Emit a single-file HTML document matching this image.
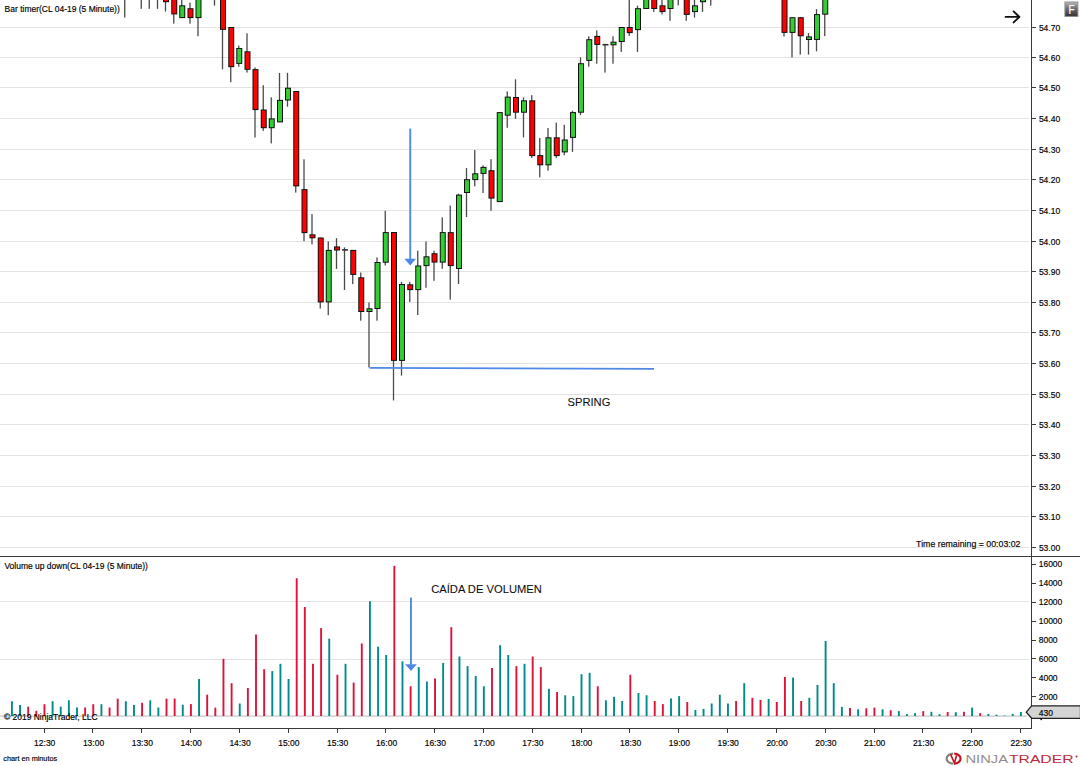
<!DOCTYPE html><html><head><meta charset="utf-8"><title>NinjaTrader chart</title><style>
html,body{margin:0;padding:0;background:#fff;width:1080px;height:766px;overflow:hidden}
svg{position:absolute;left:0;top:0;display:block}
text{font-family:"Liberation Sans",sans-serif;fill:#000;stroke:#000;stroke-width:0.16px}
</style></head><body>
<svg width="1080" height="766" viewBox="0 0 1080 766">
<rect x="0" y="0" width="1080" height="766" fill="#ffffff"/>
<g shape-rendering="crispEdges">
<rect x="0" y="27" width="1029" height="1" fill="#e3e3e3"/>
<rect x="0" y="57" width="1029" height="1" fill="#e3e3e3"/>
<rect x="0" y="87" width="1029" height="1" fill="#e3e3e3"/>
<rect x="0" y="118" width="1029" height="1" fill="#e3e3e3"/>
<rect x="0" y="149" width="1029" height="1" fill="#e3e3e3"/>
<rect x="0" y="179" width="1029" height="1" fill="#e3e3e3"/>
<rect x="0" y="210" width="1029" height="1" fill="#e3e3e3"/>
<rect x="0" y="241" width="1029" height="1" fill="#e3e3e3"/>
<rect x="0" y="271" width="1029" height="1" fill="#e3e3e3"/>
<rect x="0" y="302" width="1029" height="1" fill="#e3e3e3"/>
<rect x="0" y="332" width="1029" height="1" fill="#e3e3e3"/>
<rect x="0" y="363" width="1029" height="1" fill="#e3e3e3"/>
<rect x="0" y="394" width="1029" height="1" fill="#e3e3e3"/>
<rect x="0" y="424" width="1029" height="1" fill="#e3e3e3"/>
<rect x="0" y="455" width="1029" height="1" fill="#e3e3e3"/>
<rect x="0" y="486" width="1029" height="1" fill="#e3e3e3"/>
<rect x="0" y="516" width="1029" height="1" fill="#e3e3e3"/>
<rect x="0" y="547" width="1029" height="1" fill="#e3e3e3"/>
<rect x="0" y="601" width="1029" height="1" fill="#e3e3e3"/>
<rect x="0" y="659" width="1029" height="1" fill="#e3e3e3"/>
</g>
<rect x="0" y="715.5" width="1027" height="1.2" fill="#c4c4c4"/>
<rect x="10.95" y="701.2" width="1.9" height="14.8" fill="#008b8b"/>
<rect x="19.09" y="705.0" width="1.9" height="11.0" fill="#008b8b"/>
<rect x="27.23" y="706.7" width="1.9" height="9.3" fill="#dc143c"/>
<rect x="35.36" y="710.8" width="1.9" height="5.2" fill="#dc143c"/>
<rect x="43.50" y="704.2" width="1.9" height="11.8" fill="#dc143c"/>
<rect x="51.64" y="701.2" width="1.9" height="14.8" fill="#008b8b"/>
<rect x="59.77" y="706.7" width="1.9" height="9.3" fill="#008b8b"/>
<rect x="67.91" y="700.3" width="1.9" height="15.7" fill="#008b8b"/>
<rect x="76.05" y="707.5" width="1.9" height="8.5" fill="#008b8b"/>
<rect x="84.19" y="707.5" width="1.9" height="8.5" fill="#dc143c"/>
<rect x="92.32" y="704.2" width="1.9" height="11.8" fill="#dc143c"/>
<rect x="100.46" y="704.2" width="1.9" height="11.8" fill="#008b8b"/>
<rect x="108.60" y="707.5" width="1.9" height="8.5" fill="#dc143c"/>
<rect x="116.73" y="698.7" width="1.9" height="17.3" fill="#dc143c"/>
<rect x="124.87" y="701.2" width="1.9" height="14.8" fill="#008b8b"/>
<rect x="133.01" y="705.0" width="1.9" height="11.0" fill="#008b8b"/>
<rect x="141.14" y="702.8" width="1.9" height="13.2" fill="#dc143c"/>
<rect x="149.28" y="700.3" width="1.9" height="15.7" fill="#008b8b"/>
<rect x="157.42" y="707.5" width="1.9" height="8.5" fill="#008b8b"/>
<rect x="165.56" y="698.7" width="1.9" height="17.3" fill="#dc143c"/>
<rect x="173.69" y="698.5" width="1.9" height="17.5" fill="#dc143c"/>
<rect x="181.83" y="704.7" width="1.9" height="11.3" fill="#008b8b"/>
<rect x="189.97" y="704.1" width="1.9" height="11.9" fill="#dc143c"/>
<rect x="198.10" y="679.0" width="1.9" height="37.0" fill="#008b8b"/>
<rect x="206.24" y="694.7" width="1.9" height="21.3" fill="#dc143c"/>
<rect x="214.38" y="707.6" width="1.9" height="8.4" fill="#dc143c"/>
<rect x="222.51" y="658.8" width="1.9" height="57.2" fill="#dc143c"/>
<rect x="230.65" y="683.2" width="1.9" height="32.8" fill="#dc143c"/>
<rect x="238.79" y="703.5" width="1.9" height="12.5" fill="#008b8b"/>
<rect x="246.93" y="688.0" width="1.9" height="28.0" fill="#dc143c"/>
<rect x="255.06" y="634.5" width="1.9" height="81.5" fill="#dc143c"/>
<rect x="263.20" y="669.2" width="1.9" height="46.8" fill="#dc143c"/>
<rect x="271.34" y="671.1" width="1.9" height="44.9" fill="#008b8b"/>
<rect x="279.47" y="663.8" width="1.9" height="52.2" fill="#008b8b"/>
<rect x="287.61" y="679.0" width="1.9" height="37.0" fill="#008b8b"/>
<rect x="295.75" y="578.2" width="1.9" height="137.8" fill="#dc143c"/>
<rect x="303.88" y="607.0" width="1.9" height="109.0" fill="#dc143c"/>
<rect x="312.02" y="663.8" width="1.9" height="52.2" fill="#dc143c"/>
<rect x="320.16" y="628.1" width="1.9" height="87.9" fill="#dc143c"/>
<rect x="328.30" y="638.7" width="1.9" height="77.3" fill="#008b8b"/>
<rect x="336.43" y="674.8" width="1.9" height="41.2" fill="#dc143c"/>
<rect x="344.57" y="663.8" width="1.9" height="52.2" fill="#008b8b"/>
<rect x="352.71" y="682.6" width="1.9" height="33.4" fill="#dc143c"/>
<rect x="360.84" y="643.5" width="1.9" height="72.5" fill="#dc143c"/>
<rect x="368.98" y="601.3" width="1.9" height="114.7" fill="#008b8b"/>
<rect x="377.12" y="646.7" width="1.9" height="69.3" fill="#008b8b"/>
<rect x="385.25" y="655.0" width="1.9" height="61.0" fill="#008b8b"/>
<rect x="393.39" y="565.8" width="1.9" height="150.2" fill="#dc143c"/>
<rect x="401.53" y="661.3" width="1.9" height="54.7" fill="#008b8b"/>
<rect x="409.67" y="686.3" width="1.9" height="29.7" fill="#dc143c"/>
<rect x="417.80" y="667.1" width="1.9" height="48.9" fill="#008b8b"/>
<rect x="425.94" y="681.5" width="1.9" height="34.5" fill="#008b8b"/>
<rect x="434.08" y="678.4" width="1.9" height="37.6" fill="#dc143c"/>
<rect x="442.21" y="662.9" width="1.9" height="53.1" fill="#008b8b"/>
<rect x="450.35" y="627.2" width="1.9" height="88.8" fill="#dc143c"/>
<rect x="458.49" y="656.5" width="1.9" height="59.5" fill="#008b8b"/>
<rect x="466.62" y="666.1" width="1.9" height="49.9" fill="#008b8b"/>
<rect x="474.76" y="675.9" width="1.9" height="40.1" fill="#008b8b"/>
<rect x="482.90" y="686.3" width="1.9" height="29.7" fill="#008b8b"/>
<rect x="491.04" y="668.0" width="1.9" height="48.0" fill="#dc143c"/>
<rect x="499.17" y="645.2" width="1.9" height="70.8" fill="#008b8b"/>
<rect x="507.31" y="655.0" width="1.9" height="61.0" fill="#008b8b"/>
<rect x="515.45" y="666.1" width="1.9" height="49.9" fill="#dc143c"/>
<rect x="523.58" y="663.8" width="1.9" height="52.2" fill="#008b8b"/>
<rect x="531.72" y="656.5" width="1.9" height="59.5" fill="#dc143c"/>
<rect x="539.86" y="667.1" width="1.9" height="48.9" fill="#dc143c"/>
<rect x="547.99" y="688.8" width="1.9" height="27.2" fill="#008b8b"/>
<rect x="556.13" y="692.0" width="1.9" height="24.0" fill="#dc143c"/>
<rect x="564.27" y="695.3" width="1.9" height="20.7" fill="#008b8b"/>
<rect x="572.40" y="696.1" width="1.9" height="19.9" fill="#008b8b"/>
<rect x="580.54" y="674.2" width="1.9" height="41.8" fill="#008b8b"/>
<rect x="588.68" y="672.8" width="1.9" height="43.2" fill="#008b8b"/>
<rect x="596.82" y="686.3" width="1.9" height="29.7" fill="#dc143c"/>
<rect x="604.95" y="700.3" width="1.9" height="15.7" fill="#008b8b"/>
<rect x="613.09" y="696.8" width="1.9" height="19.2" fill="#008b8b"/>
<rect x="621.23" y="701.0" width="1.9" height="15.0" fill="#008b8b"/>
<rect x="629.36" y="674.8" width="1.9" height="41.2" fill="#dc143c"/>
<rect x="637.50" y="693.0" width="1.9" height="23.0" fill="#008b8b"/>
<rect x="645.64" y="695.3" width="1.9" height="20.7" fill="#008b8b"/>
<rect x="653.78" y="701.0" width="1.9" height="15.0" fill="#dc143c"/>
<rect x="661.91" y="704.1" width="1.9" height="11.9" fill="#dc143c"/>
<rect x="670.05" y="698.4" width="1.9" height="17.6" fill="#008b8b"/>
<rect x="678.19" y="696.1" width="1.9" height="19.9" fill="#008b8b"/>
<rect x="686.32" y="702.0" width="1.9" height="14.0" fill="#dc143c"/>
<rect x="694.46" y="709.9" width="1.9" height="6.1" fill="#008b8b"/>
<rect x="702.60" y="708.9" width="1.9" height="7.1" fill="#008b8b"/>
<rect x="710.73" y="703.5" width="1.9" height="12.5" fill="#008b8b"/>
<rect x="718.87" y="694.7" width="1.9" height="21.3" fill="#008b8b"/>
<rect x="727.01" y="703.5" width="1.9" height="12.5" fill="#008b8b"/>
<rect x="735.14" y="701.0" width="1.9" height="15.0" fill="#dc143c"/>
<rect x="743.28" y="683.2" width="1.9" height="32.8" fill="#008b8b"/>
<rect x="751.42" y="697.8" width="1.9" height="18.2" fill="#dc143c"/>
<rect x="759.56" y="699.9" width="1.9" height="16.1" fill="#dc143c"/>
<rect x="767.69" y="698.9" width="1.9" height="17.1" fill="#008b8b"/>
<rect x="775.83" y="702.0" width="1.9" height="14.0" fill="#dc143c"/>
<rect x="783.97" y="676.9" width="1.9" height="39.1" fill="#dc143c"/>
<rect x="792.10" y="677.6" width="1.9" height="38.4" fill="#008b8b"/>
<rect x="800.24" y="701.0" width="1.9" height="15.0" fill="#dc143c"/>
<rect x="808.38" y="697.8" width="1.9" height="18.2" fill="#008b8b"/>
<rect x="816.52" y="684.9" width="1.9" height="31.1" fill="#008b8b"/>
<rect x="824.65" y="641.0" width="1.9" height="75.0" fill="#008b8b"/>
<rect x="832.79" y="683.2" width="1.9" height="32.8" fill="#008b8b"/>
<rect x="840.93" y="706.9" width="1.9" height="9.1" fill="#008b8b"/>
<rect x="849.06" y="707.9" width="1.9" height="8.1" fill="#dc143c"/>
<rect x="857.20" y="709.3" width="1.9" height="6.7" fill="#008b8b"/>
<rect x="865.34" y="708.3" width="1.9" height="7.7" fill="#dc143c"/>
<rect x="873.47" y="707.6" width="1.9" height="8.4" fill="#dc143c"/>
<rect x="881.61" y="709.3" width="1.9" height="6.7" fill="#008b8b"/>
<rect x="889.75" y="710.2" width="1.9" height="5.8" fill="#dc143c"/>
<rect x="897.88" y="711.1" width="1.9" height="4.9" fill="#008b8b"/>
<rect x="906.02" y="714.1" width="1.9" height="1.9" fill="#008b8b"/>
<rect x="914.16" y="713.1" width="1.9" height="2.9" fill="#008b8b"/>
<rect x="922.30" y="711.1" width="1.9" height="4.9" fill="#dc143c"/>
<rect x="930.43" y="711.8" width="1.9" height="4.2" fill="#008b8b"/>
<rect x="938.57" y="714.2" width="1.9" height="1.8" fill="#008b8b"/>
<rect x="946.71" y="712.0" width="1.9" height="4.0" fill="#dc143c"/>
<rect x="954.84" y="712.2" width="1.9" height="3.8" fill="#008b8b"/>
<rect x="962.98" y="711.8" width="1.9" height="4.2" fill="#dc143c"/>
<rect x="971.12" y="707.6" width="1.9" height="8.4" fill="#008b8b"/>
<rect x="979.26" y="713.1" width="1.9" height="2.9" fill="#dc143c"/>
<rect x="987.39" y="713.9" width="1.9" height="2.1" fill="#008b8b"/>
<rect x="995.53" y="714.8" width="1.9" height="1.2" fill="#008b8b"/>
<rect x="1003.67" y="715.5" width="1.9" height="0.5" fill="#008b8b"/>
<rect x="1011.80" y="713.9" width="1.9" height="2.1" fill="#008b8b"/>
<rect x="1019.94" y="712.0" width="1.9" height="4.0" fill="#008b8b"/>
<rect x="124.10" y="-20.0" width="1.3" height="37.6" fill="#4a4a4a"/>
<rect x="122.25" y="-20.1" width="6" height="18.6" fill="#111111"/>
<rect x="123.25" y="-19.1" width="4" height="16.6" fill="#32cd32"/>
<rect x="140.60" y="-20.0" width="1.3" height="28.8" fill="#4a4a4a"/>
<rect x="138.75" y="-20.1" width="6" height="18.6" fill="#111111"/>
<rect x="139.75" y="-19.1" width="4" height="16.6" fill="#ff0000"/>
<rect x="148.60" y="-20.0" width="1.3" height="28.8" fill="#4a4a4a"/>
<rect x="146.75" y="-20.1" width="6" height="18.6" fill="#111111"/>
<rect x="147.75" y="-19.1" width="4" height="16.6" fill="#32cd32"/>
<rect x="156.85" y="-20.0" width="1.3" height="28.8" fill="#4a4a4a"/>
<rect x="155.0" y="-20.1" width="6" height="18.6" fill="#111111"/>
<rect x="156.0" y="-19.1" width="4" height="16.6" fill="#32cd32"/>
<rect x="164.85" y="-12.0" width="1.3" height="23.6" fill="#4a4a4a"/>
<rect x="163.0" y="-12.1" width="6" height="14.3" fill="#111111"/>
<rect x="164.0" y="-11.1" width="4" height="12.3" fill="#ff0000"/>
<rect x="173.10" y="-12.0" width="1.3" height="35.6" fill="#4a4a4a"/>
<rect x="171.25" y="-12.1" width="6" height="26.5" fill="#111111"/>
<rect x="172.25" y="-11.1" width="4" height="24.5" fill="#ff0000"/>
<rect x="181.10" y="-12.0" width="1.3" height="29.6" fill="#4a4a4a"/>
<rect x="179.25" y="5.3" width="6" height="12.8" fill="#111111"/>
<rect x="180.25" y="6.3" width="4" height="10.8" fill="#32cd32"/>
<rect x="189.35" y="2.6" width="1.3" height="21.1" fill="#4a4a4a"/>
<rect x="187.5" y="8.2" width="6" height="9.9" fill="#111111"/>
<rect x="188.5" y="9.2" width="4" height="7.9" fill="#ff0000"/>
<rect x="197.35" y="-12.0" width="1.3" height="48.2" fill="#4a4a4a"/>
<rect x="195.5" y="-12.1" width="6" height="30.2" fill="#111111"/>
<rect x="196.5" y="-11.1" width="4" height="28.2" fill="#32cd32"/>
<rect x="213.85" y="-20.0" width="1.3" height="25.6" fill="#4a4a4a"/>
<rect x="212.0" y="-20.1" width="6" height="18.6" fill="#111111"/>
<rect x="213.0" y="-19.1" width="4" height="16.6" fill="#ff0000"/>
<rect x="221.85" y="-12.0" width="1.3" height="81.3" fill="#4a4a4a"/>
<rect x="220.0" y="-12.1" width="6" height="42.0" fill="#111111"/>
<rect x="221.0" y="-11.1" width="4" height="40.0" fill="#ff0000"/>
<rect x="230.10" y="27.1" width="1.3" height="55.1" fill="#4a4a4a"/>
<rect x="228.25" y="27.0" width="6" height="40.2" fill="#111111"/>
<rect x="229.25" y="28.0" width="4" height="38.2" fill="#ff0000"/>
<rect x="238.10" y="45.6" width="1.3" height="21.1" fill="#4a4a4a"/>
<rect x="236.25" y="48.0" width="6" height="15.9" fill="#111111"/>
<rect x="237.25" y="49.0" width="4" height="13.9" fill="#32cd32"/>
<rect x="246.35" y="33.3" width="1.3" height="39.3" fill="#4a4a4a"/>
<rect x="244.5" y="51.3" width="6" height="18.5" fill="#111111"/>
<rect x="245.5" y="52.3" width="4" height="16.5" fill="#ff0000"/>
<rect x="254.35" y="67.4" width="1.3" height="70.1" fill="#4a4a4a"/>
<rect x="252.5" y="69.1" width="6" height="41.0" fill="#111111"/>
<rect x="253.5" y="70.1" width="4" height="39.0" fill="#ff0000"/>
<rect x="262.60" y="85.2" width="1.3" height="45.6" fill="#4a4a4a"/>
<rect x="260.75" y="109.5" width="6" height="18.7" fill="#111111"/>
<rect x="261.75" y="110.5" width="4" height="16.7" fill="#ff0000"/>
<rect x="270.60" y="97.3" width="1.3" height="46.1" fill="#4a4a4a"/>
<rect x="268.75" y="118.4" width="6" height="9.8" fill="#111111"/>
<rect x="269.75" y="119.4" width="4" height="7.8" fill="#32cd32"/>
<rect x="278.85" y="72.9" width="1.3" height="49.0" fill="#4a4a4a"/>
<rect x="277.0" y="99.9" width="6" height="22.5" fill="#111111"/>
<rect x="278.0" y="100.9" width="4" height="20.5" fill="#32cd32"/>
<rect x="286.85" y="72.9" width="1.3" height="33.8" fill="#4a4a4a"/>
<rect x="285.0" y="87.7" width="6" height="12.8" fill="#111111"/>
<rect x="286.0" y="88.7" width="4" height="10.8" fill="#32cd32"/>
<rect x="295.10" y="91.1" width="1.3" height="101.5" fill="#4a4a4a"/>
<rect x="293.25" y="91.0" width="6" height="95.4" fill="#111111"/>
<rect x="294.25" y="92.0" width="4" height="93.4" fill="#ff0000"/>
<rect x="303.35" y="159.3" width="1.3" height="81.9" fill="#4a4a4a"/>
<rect x="301.5" y="189.1" width="6" height="44.0" fill="#111111"/>
<rect x="302.5" y="190.1" width="4" height="42.0" fill="#ff0000"/>
<rect x="311.35" y="214.1" width="1.3" height="30.3" fill="#4a4a4a"/>
<rect x="309.5" y="234.3" width="6" height="4.0" fill="#111111"/>
<rect x="310.5" y="235.3" width="4" height="2.0" fill="#ff0000"/>
<rect x="319.60" y="237.6" width="1.3" height="70.9" fill="#4a4a4a"/>
<rect x="317.75" y="237.5" width="6" height="64.9" fill="#111111"/>
<rect x="318.75" y="238.5" width="4" height="62.9" fill="#ff0000"/>
<rect x="327.60" y="241.4" width="1.3" height="73.8" fill="#4a4a4a"/>
<rect x="325.75" y="249.9" width="6" height="52.5" fill="#111111"/>
<rect x="326.75" y="250.9" width="4" height="50.5" fill="#32cd32"/>
<rect x="335.85" y="238.2" width="1.3" height="30.7" fill="#4a4a4a"/>
<rect x="334.0" y="246.4" width="6" height="4.1" fill="#111111"/>
<rect x="335.0" y="247.4" width="4" height="2.1" fill="#ff0000"/>
<rect x="343.85" y="247.4" width="1.3" height="42.6" fill="#4a4a4a"/>
<rect x="342.0" y="249.1" width="6" height="1.6" fill="#303030"/>
<rect x="352.10" y="250.0" width="1.3" height="34.1" fill="#4a4a4a"/>
<rect x="350.25" y="249.9" width="6" height="25.0" fill="#111111"/>
<rect x="351.25" y="250.9" width="4" height="23.0" fill="#ff0000"/>
<rect x="360.10" y="272.5" width="1.3" height="48.2" fill="#4a4a4a"/>
<rect x="358.25" y="277.3" width="6" height="34.7" fill="#111111"/>
<rect x="359.25" y="278.3" width="4" height="32.7" fill="#ff0000"/>
<rect x="368.35" y="302.5" width="1.3" height="65.0" fill="#4a4a4a"/>
<rect x="366.5" y="308.3" width="6" height="3.7" fill="#111111"/>
<rect x="367.5" y="309.3" width="4" height="1.7" fill="#32cd32"/>
<rect x="376.35" y="257.4" width="1.3" height="63.3" fill="#4a4a4a"/>
<rect x="374.5" y="262.0" width="6" height="47.0" fill="#111111"/>
<rect x="375.5" y="263.0" width="4" height="45.0" fill="#32cd32"/>
<rect x="384.60" y="210.8" width="1.3" height="54.7" fill="#4a4a4a"/>
<rect x="382.75" y="232.1" width="6" height="30.6" fill="#111111"/>
<rect x="383.75" y="233.1" width="4" height="28.6" fill="#32cd32"/>
<rect x="392.85" y="232.1" width="1.3" height="168.3" fill="#4a4a4a"/>
<rect x="391.0" y="232.0" width="6" height="128.9" fill="#111111"/>
<rect x="392.0" y="233.0" width="4" height="126.9" fill="#ff0000"/>
<rect x="400.85" y="281.9" width="1.3" height="93.7" fill="#4a4a4a"/>
<rect x="399.0" y="284.0" width="6" height="76.9" fill="#111111"/>
<rect x="400.0" y="285.0" width="4" height="74.9" fill="#32cd32"/>
<rect x="409.10" y="281.9" width="1.3" height="20.1" fill="#4a4a4a"/>
<rect x="407.25" y="284.3" width="6" height="5.8" fill="#111111"/>
<rect x="408.25" y="285.3" width="4" height="3.8" fill="#ff0000"/>
<rect x="417.10" y="250.6" width="1.3" height="64.4" fill="#4a4a4a"/>
<rect x="415.25" y="265.5" width="6" height="24.6" fill="#111111"/>
<rect x="416.25" y="266.5" width="4" height="22.6" fill="#32cd32"/>
<rect x="425.35" y="241.6" width="1.3" height="46.2" fill="#4a4a4a"/>
<rect x="423.5" y="256.3" width="6" height="9.8" fill="#111111"/>
<rect x="424.5" y="257.3" width="4" height="7.8" fill="#32cd32"/>
<rect x="433.35" y="250.7" width="1.3" height="30.1" fill="#4a4a4a"/>
<rect x="431.5" y="253.2" width="6" height="9.4" fill="#111111"/>
<rect x="432.5" y="254.2" width="4" height="7.4" fill="#ff0000"/>
<rect x="441.60" y="217.4" width="1.3" height="51.4" fill="#4a4a4a"/>
<rect x="439.75" y="232.1" width="6" height="30.5" fill="#111111"/>
<rect x="440.75" y="233.1" width="4" height="28.5" fill="#32cd32"/>
<rect x="449.60" y="205.6" width="1.3" height="94.0" fill="#4a4a4a"/>
<rect x="447.75" y="232.1" width="6" height="34.0" fill="#111111"/>
<rect x="448.75" y="233.1" width="4" height="32.0" fill="#ff0000"/>
<rect x="457.85" y="193.7" width="1.3" height="90.3" fill="#4a4a4a"/>
<rect x="456.0" y="194.6" width="6" height="74.4" fill="#111111"/>
<rect x="457.0" y="195.6" width="4" height="72.4" fill="#32cd32"/>
<rect x="465.85" y="168.1" width="1.3" height="48.9" fill="#4a4a4a"/>
<rect x="464.0" y="179.2" width="6" height="13.8" fill="#111111"/>
<rect x="465.0" y="180.2" width="4" height="11.8" fill="#32cd32"/>
<rect x="474.10" y="150.0" width="1.3" height="36.3" fill="#4a4a4a"/>
<rect x="472.25" y="173.3" width="6" height="6.8" fill="#111111"/>
<rect x="473.25" y="174.3" width="4" height="4.8" fill="#32cd32"/>
<rect x="482.35" y="165.3" width="1.3" height="27.7" fill="#4a4a4a"/>
<rect x="480.5" y="166.9" width="6" height="7.0" fill="#111111"/>
<rect x="481.5" y="167.9" width="4" height="5.0" fill="#32cd32"/>
<rect x="490.35" y="159.2" width="1.3" height="51.5" fill="#4a4a4a"/>
<rect x="488.5" y="170.2" width="6" height="28.4" fill="#111111"/>
<rect x="489.5" y="171.2" width="4" height="26.4" fill="#ff0000"/>
<rect x="498.60" y="112.2" width="1.3" height="89.4" fill="#4a4a4a"/>
<rect x="496.75" y="112.1" width="6" height="90.0" fill="#111111"/>
<rect x="497.75" y="113.1" width="4" height="88.0" fill="#32cd32"/>
<rect x="506.60" y="91.5" width="1.3" height="36.3" fill="#4a4a4a"/>
<rect x="504.75" y="96.6" width="6" height="19.1" fill="#111111"/>
<rect x="505.75" y="97.6" width="4" height="17.1" fill="#32cd32"/>
<rect x="514.85" y="79.3" width="1.3" height="39.6" fill="#4a4a4a"/>
<rect x="513.0" y="97.0" width="6" height="15.7" fill="#111111"/>
<rect x="514.0" y="98.0" width="4" height="13.7" fill="#ff0000"/>
<rect x="522.85" y="97.4" width="1.3" height="40.0" fill="#4a4a4a"/>
<rect x="521.0" y="100.3" width="6" height="12.4" fill="#111111"/>
<rect x="522.0" y="101.3" width="4" height="10.4" fill="#32cd32"/>
<rect x="531.10" y="95.2" width="1.3" height="62.8" fill="#4a4a4a"/>
<rect x="529.25" y="100.3" width="6" height="55.8" fill="#111111"/>
<rect x="530.25" y="101.3" width="4" height="53.8" fill="#ff0000"/>
<rect x="539.10" y="138.1" width="1.3" height="39.3" fill="#4a4a4a"/>
<rect x="537.25" y="155.1" width="6" height="10.2" fill="#111111"/>
<rect x="538.25" y="156.1" width="4" height="8.2" fill="#ff0000"/>
<rect x="547.35" y="128.0" width="1.3" height="42.7" fill="#4a4a4a"/>
<rect x="545.5" y="137.3" width="6" height="28.0" fill="#111111"/>
<rect x="546.5" y="138.3" width="4" height="26.0" fill="#32cd32"/>
<rect x="555.60" y="122.6" width="1.3" height="35.4" fill="#4a4a4a"/>
<rect x="553.75" y="137.3" width="6" height="18.8" fill="#111111"/>
<rect x="554.75" y="138.3" width="4" height="16.8" fill="#ff0000"/>
<rect x="563.60" y="124.8" width="1.3" height="30.4" fill="#4a4a4a"/>
<rect x="561.75" y="139.5" width="6" height="12.9" fill="#111111"/>
<rect x="562.75" y="140.5" width="4" height="10.9" fill="#32cd32"/>
<rect x="571.85" y="110.7" width="1.3" height="41.2" fill="#4a4a4a"/>
<rect x="570.0" y="112.1" width="6" height="25.8" fill="#111111"/>
<rect x="571.0" y="113.1" width="4" height="23.8" fill="#32cd32"/>
<rect x="579.85" y="57.4" width="1.3" height="57.8" fill="#4a4a4a"/>
<rect x="578.0" y="63.2" width="6" height="49.5" fill="#111111"/>
<rect x="579.0" y="64.2" width="4" height="47.5" fill="#32cd32"/>
<rect x="588.10" y="36.3" width="1.3" height="30.4" fill="#4a4a4a"/>
<rect x="586.25" y="39.2" width="6" height="21.7" fill="#111111"/>
<rect x="587.25" y="40.2" width="4" height="19.7" fill="#32cd32"/>
<rect x="596.10" y="30.4" width="1.3" height="33.3" fill="#4a4a4a"/>
<rect x="594.25" y="35.9" width="6" height="9.0" fill="#111111"/>
<rect x="595.25" y="36.9" width="4" height="7.0" fill="#ff0000"/>
<rect x="604.35" y="43.9" width="1.3" height="28.7" fill="#4a4a4a"/>
<rect x="602.5" y="43.9" width="6" height="1.6" fill="#303030"/>
<rect x="612.35" y="36.3" width="1.3" height="27.4" fill="#4a4a4a"/>
<rect x="610.5" y="41.7" width="6" height="3.6" fill="#111111"/>
<rect x="611.5" y="42.7" width="4" height="1.6" fill="#32cd32"/>
<rect x="620.60" y="27.1" width="1.3" height="24.8" fill="#4a4a4a"/>
<rect x="618.75" y="27.0" width="6" height="15.0" fill="#111111"/>
<rect x="619.75" y="28.0" width="4" height="13.0" fill="#32cd32"/>
<rect x="628.60" y="-12.0" width="1.3" height="47.9" fill="#4a4a4a"/>
<rect x="626.75" y="27.0" width="6" height="6.1" fill="#111111"/>
<rect x="627.75" y="28.0" width="4" height="4.1" fill="#ff0000"/>
<rect x="636.85" y="5.7" width="1.3" height="46.2" fill="#4a4a4a"/>
<rect x="635.0" y="8.2" width="6" height="21.9" fill="#111111"/>
<rect x="636.0" y="9.2" width="4" height="19.9" fill="#32cd32"/>
<rect x="645.10" y="-12.0" width="1.3" height="20.5" fill="#4a4a4a"/>
<rect x="643.25" y="-12.1" width="6" height="21.1" fill="#111111"/>
<rect x="644.25" y="-11.1" width="4" height="19.1" fill="#32cd32"/>
<rect x="653.10" y="-12.0" width="1.3" height="23.9" fill="#4a4a4a"/>
<rect x="651.25" y="-12.1" width="6" height="21.1" fill="#111111"/>
<rect x="652.25" y="-11.1" width="4" height="19.1" fill="#ff0000"/>
<rect x="661.35" y="-12.0" width="1.3" height="26.4" fill="#4a4a4a"/>
<rect x="659.5" y="5.3" width="6" height="6.8" fill="#111111"/>
<rect x="660.5" y="6.3" width="4" height="4.8" fill="#ff0000"/>
<rect x="669.35" y="-12.0" width="1.3" height="32.8" fill="#4a4a4a"/>
<rect x="667.5" y="-12.1" width="6" height="21.1" fill="#111111"/>
<rect x="668.5" y="-11.1" width="4" height="19.1" fill="#32cd32"/>
<rect x="677.60" y="-20.0" width="1.3" height="25.4" fill="#4a4a4a"/>
<rect x="675.75" y="-20.1" width="6" height="18.6" fill="#111111"/>
<rect x="676.75" y="-19.1" width="4" height="16.6" fill="#32cd32"/>
<rect x="685.60" y="-12.0" width="1.3" height="32.8" fill="#4a4a4a"/>
<rect x="683.75" y="-12.1" width="6" height="27.0" fill="#111111"/>
<rect x="684.75" y="-11.1" width="4" height="25.0" fill="#ff0000"/>
<rect x="693.85" y="-12.0" width="1.3" height="29.6" fill="#4a4a4a"/>
<rect x="692.0" y="5.3" width="6" height="6.8" fill="#111111"/>
<rect x="693.0" y="6.3" width="4" height="4.8" fill="#32cd32"/>
<rect x="701.85" y="-12.0" width="1.3" height="23.9" fill="#4a4a4a"/>
<rect x="700.0" y="-12.1" width="6" height="14.3" fill="#111111"/>
<rect x="701.0" y="-11.1" width="4" height="12.3" fill="#32cd32"/>
<rect x="710.10" y="-20.0" width="1.3" height="25.7" fill="#4a4a4a"/>
<rect x="708.25" y="-20.1" width="6" height="18.6" fill="#111111"/>
<rect x="709.25" y="-19.1" width="4" height="16.6" fill="#32cd32"/>
<rect x="783.35" y="-12.0" width="1.3" height="48.6" fill="#4a4a4a"/>
<rect x="781.5" y="-12.1" width="6" height="45.0" fill="#111111"/>
<rect x="782.5" y="-11.1" width="4" height="43.0" fill="#ff0000"/>
<rect x="791.35" y="17.3" width="1.3" height="40.1" fill="#4a4a4a"/>
<rect x="789.5" y="17.2" width="6" height="15.7" fill="#111111"/>
<rect x="790.5" y="18.2" width="4" height="13.7" fill="#32cd32"/>
<rect x="799.60" y="17.3" width="1.3" height="37.3" fill="#4a4a4a"/>
<rect x="797.75" y="17.2" width="6" height="19.1" fill="#111111"/>
<rect x="798.75" y="18.2" width="4" height="17.1" fill="#ff0000"/>
<rect x="807.85" y="33.1" width="1.3" height="21.5" fill="#4a4a4a"/>
<rect x="806.0" y="36.4" width="6" height="3.6" fill="#111111"/>
<rect x="807.0" y="37.4" width="4" height="1.6" fill="#32cd32"/>
<rect x="815.85" y="9.1" width="1.3" height="42.3" fill="#4a4a4a"/>
<rect x="814.0" y="14.1" width="6" height="25.8" fill="#111111"/>
<rect x="815.0" y="15.1" width="4" height="23.8" fill="#32cd32"/>
<rect x="824.10" y="-12.0" width="1.3" height="48.1" fill="#4a4a4a"/>
<rect x="822.25" y="-12.1" width="6" height="26.8" fill="#111111"/>
<rect x="823.25" y="-11.1" width="4" height="24.8" fill="#32cd32"/>
<line x1="369.6" y1="367.8" x2="654" y2="368.8" stroke="#4f88e6" stroke-width="1.8"/>
<rect x="409.3" y="128.6" width="1.9" height="131" fill="#4f88e6"/>
<polygon points="404.4,258.8 416.0,258.8 410.2,265.6" fill="#4f88e6"/>
<rect x="410.0" y="597.6" width="1.9" height="67" fill="#4f88e6"/>
<polygon points="405.2,664.2 416.8,664.2 411.0,671" fill="#4f88e6"/>
<g shape-rendering="crispEdges">
<rect x="1031" y="0" width="1.2" height="728.8" fill="#3a3a3a"/>
<rect x="0" y="555.6" width="1080" height="1.3" fill="#3a3a3a"/>
<rect x="0" y="727.6" width="1032" height="1.3" fill="#3a3a3a"/>
<rect x="1031" y="27" width="5" height="1" fill="#3a3a3a"/>
<rect x="1031" y="57" width="5" height="1" fill="#3a3a3a"/>
<rect x="1031" y="87" width="5" height="1" fill="#3a3a3a"/>
<rect x="1031" y="118" width="5" height="1" fill="#3a3a3a"/>
<rect x="1031" y="149" width="5" height="1" fill="#3a3a3a"/>
<rect x="1031" y="179" width="5" height="1" fill="#3a3a3a"/>
<rect x="1031" y="210" width="5" height="1" fill="#3a3a3a"/>
<rect x="1031" y="241" width="5" height="1" fill="#3a3a3a"/>
<rect x="1031" y="271" width="5" height="1" fill="#3a3a3a"/>
<rect x="1031" y="302" width="5" height="1" fill="#3a3a3a"/>
<rect x="1031" y="332" width="5" height="1" fill="#3a3a3a"/>
<rect x="1031" y="363" width="5" height="1" fill="#3a3a3a"/>
<rect x="1031" y="394" width="5" height="1" fill="#3a3a3a"/>
<rect x="1031" y="424" width="5" height="1" fill="#3a3a3a"/>
<rect x="1031" y="455" width="5" height="1" fill="#3a3a3a"/>
<rect x="1031" y="486" width="5" height="1" fill="#3a3a3a"/>
<rect x="1031" y="516" width="5" height="1" fill="#3a3a3a"/>
<rect x="1031" y="547" width="5" height="1" fill="#3a3a3a"/>
<rect x="1031" y="696.3" width="5" height="1" fill="#3a3a3a"/>
<rect x="1031" y="677.4" width="5" height="1" fill="#3a3a3a"/>
<rect x="1031" y="658.4" width="5" height="1" fill="#3a3a3a"/>
<rect x="1031" y="639.5" width="5" height="1" fill="#3a3a3a"/>
<rect x="1031" y="620.5" width="5" height="1" fill="#3a3a3a"/>
<rect x="1031" y="601.5" width="5" height="1" fill="#3a3a3a"/>
<rect x="1031" y="582.6" width="5" height="1" fill="#3a3a3a"/>
<rect x="1031" y="563.6" width="5" height="1" fill="#3a3a3a"/>
<rect x="44" y="728" width="1" height="5" fill="#3a3a3a"/>
<rect x="92" y="728" width="1" height="5" fill="#3a3a3a"/>
<rect x="141" y="728" width="1" height="5" fill="#3a3a3a"/>
<rect x="190" y="728" width="1" height="5" fill="#3a3a3a"/>
<rect x="239" y="728" width="1" height="5" fill="#3a3a3a"/>
<rect x="288" y="728" width="1" height="5" fill="#3a3a3a"/>
<rect x="337" y="728" width="1" height="5" fill="#3a3a3a"/>
<rect x="385" y="728" width="1" height="5" fill="#3a3a3a"/>
<rect x="434" y="728" width="1" height="5" fill="#3a3a3a"/>
<rect x="483" y="728" width="1" height="5" fill="#3a3a3a"/>
<rect x="532" y="728" width="1" height="5" fill="#3a3a3a"/>
<rect x="581" y="728" width="1" height="5" fill="#3a3a3a"/>
<rect x="629" y="728" width="1" height="5" fill="#3a3a3a"/>
<rect x="678" y="728" width="1" height="5" fill="#3a3a3a"/>
<rect x="727" y="728" width="1" height="5" fill="#3a3a3a"/>
<rect x="776" y="728" width="1" height="5" fill="#3a3a3a"/>
<rect x="825" y="728" width="1" height="5" fill="#3a3a3a"/>
<rect x="874" y="728" width="1" height="5" fill="#3a3a3a"/>
<rect x="922" y="728" width="1" height="5" fill="#3a3a3a"/>
<rect x="971" y="728" width="1" height="5" fill="#3a3a3a"/>
<rect x="1020" y="728" width="1" height="5" fill="#3a3a3a"/>
</g>
<text transform="translate(1038.9,30.6) scale(1,1.08)" font-size="8.5">54.70</text>
<text transform="translate(1038.9,60.6) scale(1,1.08)" font-size="8.5">54.60</text>
<text transform="translate(1038.9,90.6) scale(1,1.08)" font-size="8.5">54.50</text>
<text transform="translate(1038.9,121.6) scale(1,1.08)" font-size="8.5">54.40</text>
<text transform="translate(1038.9,152.6) scale(1,1.08)" font-size="8.5">54.30</text>
<text transform="translate(1038.9,182.6) scale(1,1.08)" font-size="8.5">54.20</text>
<text transform="translate(1038.9,213.6) scale(1,1.08)" font-size="8.5">54.10</text>
<text transform="translate(1038.9,244.6) scale(1,1.08)" font-size="8.5">54.00</text>
<text transform="translate(1038.9,274.6) scale(1,1.08)" font-size="8.5">53.90</text>
<text transform="translate(1038.9,305.6) scale(1,1.08)" font-size="8.5">53.80</text>
<text transform="translate(1038.9,335.6) scale(1,1.08)" font-size="8.5">53.70</text>
<text transform="translate(1038.9,366.6) scale(1,1.08)" font-size="8.5">53.60</text>
<text transform="translate(1038.9,397.6) scale(1,1.08)" font-size="8.5">53.50</text>
<text transform="translate(1038.9,427.6) scale(1,1.08)" font-size="8.5">53.40</text>
<text transform="translate(1038.9,458.6) scale(1,1.08)" font-size="8.5">53.30</text>
<text transform="translate(1038.9,489.6) scale(1,1.08)" font-size="8.5">53.20</text>
<text transform="translate(1038.9,519.6) scale(1,1.08)" font-size="8.5">53.10</text>
<text transform="translate(1038.9,550.6) scale(1,1.08)" font-size="8.5">53.00</text>
<text transform="translate(1038.7,699.7) scale(1,1.08)" font-size="8.5">2000</text>
<text transform="translate(1038.7,680.8) scale(1,1.08)" font-size="8.5">4000</text>
<text transform="translate(1038.7,661.8) scale(1,1.08)" font-size="8.5">6000</text>
<text transform="translate(1038.7,642.9) scale(1,1.08)" font-size="8.5">8000</text>
<text transform="translate(1038.7,623.9) scale(1,1.08)" font-size="8.5">10000</text>
<text transform="translate(1038.7,604.9) scale(1,1.08)" font-size="8.5">12000</text>
<text transform="translate(1038.7,586.0) scale(1,1.08)" font-size="8.5">14000</text>
<text transform="translate(1038.7,567.0) scale(1,1.08)" font-size="8.5">16000</text>
<text transform="translate(44.7,745.8) scale(1,1.08)" font-size="8.5" text-anchor="middle">12:30</text>
<text transform="translate(93.5,745.8) scale(1,1.08)" font-size="8.5" text-anchor="middle">13:00</text>
<text transform="translate(142.3,745.8) scale(1,1.08)" font-size="8.5" text-anchor="middle">13:30</text>
<text transform="translate(191.2,745.8) scale(1,1.08)" font-size="8.5" text-anchor="middle">14:00</text>
<text transform="translate(240.0,745.8) scale(1,1.08)" font-size="8.5" text-anchor="middle">14:30</text>
<text transform="translate(288.8,745.8) scale(1,1.08)" font-size="8.5" text-anchor="middle">15:00</text>
<text transform="translate(337.6,745.8) scale(1,1.08)" font-size="8.5" text-anchor="middle">15:30</text>
<text transform="translate(386.5,745.8) scale(1,1.08)" font-size="8.5" text-anchor="middle">16:00</text>
<text transform="translate(435.3,745.8) scale(1,1.08)" font-size="8.5" text-anchor="middle">16:30</text>
<text transform="translate(484.1,745.8) scale(1,1.08)" font-size="8.5" text-anchor="middle">17:00</text>
<text transform="translate(532.9,745.8) scale(1,1.08)" font-size="8.5" text-anchor="middle">17:30</text>
<text transform="translate(581.7,745.8) scale(1,1.08)" font-size="8.5" text-anchor="middle">18:00</text>
<text transform="translate(630.6,745.8) scale(1,1.08)" font-size="8.5" text-anchor="middle">18:30</text>
<text transform="translate(679.4,745.8) scale(1,1.08)" font-size="8.5" text-anchor="middle">19:00</text>
<text transform="translate(728.2,745.8) scale(1,1.08)" font-size="8.5" text-anchor="middle">19:30</text>
<text transform="translate(777.0,745.8) scale(1,1.08)" font-size="8.5" text-anchor="middle">20:00</text>
<text transform="translate(825.9,745.8) scale(1,1.08)" font-size="8.5" text-anchor="middle">20:30</text>
<text transform="translate(874.7,745.8) scale(1,1.08)" font-size="8.5" text-anchor="middle">21:00</text>
<text transform="translate(923.5,745.8) scale(1,1.08)" font-size="8.5" text-anchor="middle">21:30</text>
<text transform="translate(972.3,745.8) scale(1,1.08)" font-size="8.5" text-anchor="middle">22:00</text>
<text transform="translate(1021.1,745.8) scale(1,1.08)" font-size="8.5" text-anchor="middle">22:30</text>
<polygon points="1026.3,712.2 1031.6,705.8 1080.5,705.8 1080.5,718.3 1031.6,718.3" fill="#d4d4d4" stroke="#222" stroke-width="1.3"/>
<text transform="translate(1038.7,715.8) scale(1,1.08)" font-size="8.5">430</text>
<circle cx="1041.2" cy="719.3" r="0.9" fill="#111"/>
<text transform="translate(4.6,12.1) scale(1,1.08)" font-size="8.5">Bar timer(CL 04-19 (5 Minute))</text>
<text transform="translate(4.4,569) scale(1,1.08)" font-size="8.5">Volume up down(CL 04-19 (5 Minute))</text>
<text transform="translate(3.9,720) scale(1,1.08)" font-size="8.5">© 2019 NinjaTrader, LLC</text>
<text transform="translate(3.3,761.1) scale(1,1.08)" font-size="7.3">chart en minutos</text>
<text x="567.5" y="406" font-size="11.2" style="stroke-width:0.08px;fill:#111">SPRING</text>
<text x="431.2" y="593.4" font-size="11.2" style="stroke-width:0.08px;fill:#111">CAÍDA DE VOLUMEN</text>
<text transform="translate(916.1,546.6) scale(1,1.08)" font-size="8.8">Time remaining = 00:03:02</text>
<g stroke="#111" stroke-width="1.9" fill="none" stroke-linecap="round" stroke-linejoin="round">
<line x1="1005.6" y1="16.9" x2="1019.2" y2="16.9"/><polyline points="1013.6,11.4 1019.4,16.9 1013.6,22.4"/></g>
<defs><linearGradient id="fg" x1="0" y1="0" x2="0" y2="1"><stop offset="0" stop-color="#b8b8b8"/><stop offset="0.45" stop-color="#707070"/><stop offset="1" stop-color="#303030"/></linearGradient></defs>
<rect x="1064.9" y="2" width="13" height="14.4" fill="url(#fg)" stroke="#8c8c8c" stroke-width="0.9"/>
<text x="1068.4" y="13.8" font-size="12" textLength="6" lengthAdjust="spacingAndGlyphs" style="fill:#ffffff;stroke:#fff;stroke-width:0.2px">F</text>
<g>
<path d="M953.2,753.6 A6.6,5.0 0 0 0 953.2,763.6" fill="none" stroke="#8a807c" stroke-width="2.2"/>
<path d="M954.2,753.6 A6.4,5.0 0 0 1 954.2,763.6" fill="none" stroke="#c4141f" stroke-width="2.2"/>
<path d="M950.6,754.4 L954.4,763.0 L956.6,755.2" fill="none" stroke="#c4141f" stroke-width="1.6"/>
<text x="965.5" y="762.6" font-size="10.2" textLength="42.5" lengthAdjust="spacingAndGlyphs" style="fill:#958b8b;stroke:none">NINJA</text>
<text x="1009" y="762.6" font-size="10.2" textLength="64.5" lengthAdjust="spacingAndGlyphs" style="fill:#bf2a3a;stroke:none">TRADER</text>
<circle cx="1076.5" cy="756.5" r="1" fill="#b82032"/>
</g>
</svg></body></html>
